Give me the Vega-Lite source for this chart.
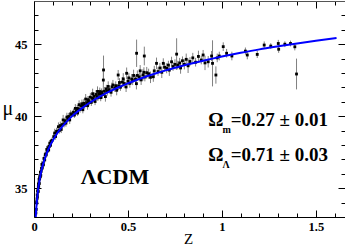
{
  "$schema": "https://vega.github.io/schema/vega-lite/v6.json",
  "width": 311,
  "height": 216,
  "autosize": {"type": "none"},
  "padding": {"left": 34, "top": 1, "right": 0, "bottom": 28},
  "background": "white",
  "config": {"view": {"stroke": null}, "axis": {"grid": false, "domainColor": "#000", "tickColor": "#000", "labelFont": "Liberation Serif, Times New Roman, serif", "labelFontWeight": "bold", "labelFontSize": 12.5, "labelColor": "#000", "titleFont": "Liberation Serif, Times New Roman, serif", "titleColor": "#000", "titleFontWeight": "normal"}},
  "datasets": {
    "sn": [
      {"z":0.010,"mu":33.28,"err":0.25},{"z":0.012,"mu":33.53,"err":0.2},{"z":0.014,"mu":34.06,"err":0.22},{"z":0.015,"mu":33.97,"err":0.2},{"z":0.016,"mu":34.26,"err":0.18},{"z":0.017,"mu":34.54,"err":0.25},{"z":0.018,"mu":34.39,"err":0.2},{"z":0.020,"mu":34.82,"err":0.18},{"z":0.021,"mu":34.81,"err":0.2},{"z":0.022,"mu":34.76,"err":0.22},
      {"z":0.023,"mu":35.09,"err":0.18},{"z":0.024,"mu":35.28,"err":0.2},{"z":0.025,"mu":35.14,"err":0.16},{"z":0.026,"mu":35.38,"err":0.2},{"z":0.027,"mu":35.61,"err":0.22},{"z":0.028,"mu":35.32,"err":0.18},{"z":0.030,"mu":35.66,"err":0.2},{"z":0.031,"mu":35.81,"err":0.17},{"z":0.033,"mu":35.79,"err":0.2},{"z":0.034,"mu":36.10,"err":0.22},
      {"z":0.036,"mu":35.90,"err":0.18},{"z":0.038,"mu":36.17,"err":0.2},{"z":0.040,"mu":36.39,"err":0.2},{"z":0.042,"mu":36.65,"err":0.25},{"z":0.044,"mu":36.40,"err":0.18},{"z":0.046,"mu":36.65,"err":0.2},{"z":0.048,"mu":36.73,"err":0.17},{"z":0.050,"mu":36.62,"err":0.2},{"z":0.053,"mu":37.07,"err":0.2},{"z":0.055,"mu":37.01,"err":0.18},
      {"z":0.057,"mu":36.96,"err":0.2},{"z":0.060,"mu":37.33,"err":0.22},{"z":0.063,"mu":37.38,"err":0.18},{"z":0.065,"mu":37.31,"err":0.2},{"z":0.068,"mu":37.69,"err":0.25},{"z":0.071,"mu":37.60,"err":0.2},{"z":0.075,"mu":37.81,"err":0.2},{"z":0.078,"mu":37.65,"err":0.18},{"z":0.080,"mu":37.91,"err":0.2},{"z":0.084,"mu":38.13,"err":0.22},
      {"z":0.088,"mu":37.98,"err":0.2},{"z":0.092,"mu":38.26,"err":0.18},{"z":0.096,"mu":38.32,"err":0.2},
      {"z":0.105,"mu":38.58,"err":0.25},{"z":0.11,"mu":38.83,"err":0.3},{"z":0.115,"mu":38.59,"err":0.22},{"z":0.12,"mu":38.95,"err":0.25},{"z":0.125,"mu":38.94,"err":0.2},{"z":0.13,"mu":39.27,"err":0.3},{"z":0.135,"mu":39.01,"err":0.22},{"z":0.14,"mu":39.35,"err":0.28},{"z":0.145,"mu":39.08,"err":0.25},{"z":0.15,"mu":39.42,"err":0.2},
      {"z":0.155,"mu":39.74,"err":0.35},{"z":0.16,"mu":39.47,"err":0.25},{"z":0.165,"mu":39.69,"err":0.22},{"z":0.17,"mu":39.52,"err":0.25},{"z":0.175,"mu":39.94,"err":0.3},{"z":0.18,"mu":39.81,"err":0.22},{"z":0.185,"mu":39.98,"err":0.25},{"z":0.19,"mu":39.74,"err":0.28},{"z":0.195,"mu":40.16,"err":0.25},{"z":0.2,"mu":40.12,"err":0.2},
      {"z":0.21,"mu":40.28,"err":0.25},{"z":0.215,"mu":40.08,"err":0.2},{"z":0.22,"mu":40.54,"err":0.3},{"z":0.225,"mu":40.34,"err":0.22},{"z":0.23,"mu":40.54,"err":0.25},{"z":0.232,"mu":40.22,"err":0.2},{"z":0.235,"mu":40.50,"err":0.28},{"z":0.24,"mu":40.80,"err":0.3},{"z":0.245,"mu":40.46,"err":0.22},{"z":0.25,"mu":40.71,"err":0.25},
      {"z":0.255,"mu":40.86,"err":0.3},{"z":0.26,"mu":40.45,"err":0.25},{"z":0.262,"mu":40.72,"err":0.2},{"z":0.265,"mu":40.90,"err":0.3},{"z":0.27,"mu":40.74,"err":0.22},{"z":0.275,"mu":41.19,"err":0.35},{"z":0.28,"mu":40.94,"err":0.25},{"z":0.285,"mu":40.73,"err":0.28},{"z":0.287,"mu":41.15,"err":0.25},{"z":0.29,"mu":41.08,"err":0.3},
      {"z":0.295,"mu":40.97,"err":0.22},{"z":0.30,"mu":41.32,"err":0.3},{"z":0.305,"mu":40.96,"err":0.25},{"z":0.31,"mu":41.25,"err":0.28},{"z":0.312,"mu":41.56,"err":0.35},{"z":0.315,"mu":41.19,"err":0.22},{"z":0.32,"mu":41.38,"err":0.3},{"z":0.325,"mu":41.02,"err":0.25},{"z":0.33,"mu":41.51,"err":0.3},{"z":0.335,"mu":41.35,"err":0.25},
      {"z":0.338,"mu":41.72,"err":0.35},{"z":0.34,"mu":41.28,"err":0.22},{"z":0.345,"mu":41.52,"err":0.3},{"z":0.35,"mu":41.71,"err":0.28},{"z":0.355,"mu":41.29,"err":0.25},{"z":0.358,"mu":41.56,"err":0.3},{"z":0.36,"mu":41.68,"err":0.25},{"z":0.365,"mu":41.51,"err":0.3},{"z":0.37,"mu":43.21,"err":1.0},{"z":0.369,"mu":42.51,"err":0.8},
      {"z":0.375,"mu":41.73,"err":0.3},{"z":0.38,"mu":41.36,"err":0.35},{"z":0.385,"mu":41.90,"err":0.28},{"z":0.39,"mu":41.73,"err":0.3},{"z":0.395,"mu":42.07,"err":0.35},{"z":0.40,"mu":41.85,"err":0.25},{"z":0.41,"mu":41.66,"err":0.3},{"z":0.415,"mu":42.04,"err":0.3},{"z":0.42,"mu":42.17,"err":0.35},{"z":0.43,"mu":41.94,"err":0.25},
      {"z":0.435,"mu":42.12,"err":0.3},{"z":0.44,"mu":41.80,"err":0.35},{"z":0.448,"mu":42.86,"err":0.35},{"z":0.45,"mu":42.11,"err":0.3},{"z":0.455,"mu":42.34,"err":0.3},{"z":0.46,"mu":42.01,"err":0.25},{"z":0.47,"mu":42.37,"err":0.35},{"z":0.475,"mu":42.59,"err":0.4},{"z":0.48,"mu":42.27,"err":0.3},{"z":0.49,"mu":42.03,"err":0.35},
      {"z":0.493,"mu":42.98,"err":0.4},{"z":0.50,"mu":42.43,"err":0.3},{"z":0.505,"mu":42.66,"err":0.35},{"z":0.51,"mu":42.28,"err":0.3},{"z":0.52,"mu":42.58,"err":0.35},{"z":0.525,"mu":42.46,"err":0.3},{"z":0.53,"mu":42.83,"err":0.4},{"z":0.54,"mu":42.58,"err":0.3},{"z":0.545,"mu":42.26,"err":0.4},{"z":0.546,"mu":44.37,"err":0.95},
      {"z":0.55,"mu":42.83,"err":0.35},{"z":0.56,"mu":42.73,"err":0.3},{"z":0.565,"mu":43.15,"err":0.4},{"z":0.57,"mu":42.52,"err":0.35},{"z":0.58,"mu":42.87,"err":0.4},{"z":0.585,"mu":43.05,"err":0.35},{"z":0.587,"mu":44.18,"err":0.65},{"z":0.59,"mu":42.72,"err":0.3},{"z":0.60,"mu":43.02,"err":0.4},
      {"z":0.61,"mu":42.95,"err":0.35},{"z":0.62,"mu":42.70,"err":0.4},{"z":0.635,"mu":42.74,"err":0.35},{"z":0.64,"mu":43.15,"err":0.35},{"z":0.652,"mu":43.67,"err":0.4},{"z":0.66,"mu":43.10,"err":0.3},{"z":0.67,"mu":43.35,"err":0.35},{"z":0.68,"mu":43.05,"err":0.4},{"z":0.688,"mu":43.67,"err":0.35},{"z":0.695,"mu":43.40,"err":0.3},
      {"z":0.706,"mu":43.33,"err":0.35},{"z":0.715,"mu":43.55,"err":0.3},{"z":0.72,"mu":43.20,"err":0.4},{"z":0.732,"mu":43.78,"err":0.35},{"z":0.74,"mu":43.45,"err":0.3},{"z":0.75,"mu":43.60,"err":0.35},{"z":0.759,"mu":44.31,"err":1.1},{"z":0.765,"mu":43.55,"err":0.3},{"z":0.775,"mu":43.70,"err":0.35},{"z":0.78,"mu":43.35,"err":0.4},
      {"z":0.79,"mu":43.85,"err":0.3},{"z":0.80,"mu":43.60,"err":0.35},{"z":0.81,"mu":43.95,"err":0.4},{"z":0.82,"mu":43.50,"err":0.5},{"z":0.83,"mu":43.80,"err":0.3},{"z":0.845,"mu":44.05,"err":0.35},{"z":0.86,"mu":43.75,"err":0.3},{"z":0.875,"mu":44.15,"err":0.4},{"z":0.89,"mu":43.90,"err":0.3},{"z":0.90,"mu":44.25,"err":0.35},
      {"z":0.91,"mu":43.70,"err":0.5},{"z":0.927,"mu":43.78,"err":0.4},{"z":0.945,"mu":44.18,"err":0.35},{"z":0.95,"mu":43.67,"err":1.6},{"z":0.968,"mu":42.86,"err":0.6},{"z":0.975,"mu":44.05,"err":0.3},{"z":0.986,"mu":44.18,"err":0.3},{"z":1.007,"mu":44.83,"err":0.3},{"z":1.025,"mu":44.37,"err":0.3},{"z":1.053,"mu":44.18,"err":0.3},
      {"z":1.125,"mu":44.52,"err":0.25},{"z":1.135,"mu":44.25,"err":0.3},{"z":1.188,"mu":44.29,"err":0.25},{"z":1.225,"mu":44.94,"err":0.25},{"z":1.26,"mu":44.87,"err":0.2},{"z":1.30,"mu":45.05,"err":0.25},{"z":1.302,"mu":44.65,"err":0.25},{"z":1.335,"mu":45.0,"err":0.2},{"z":1.365,"mu":45.05,"err":0.2},{"z":1.388,"mu":44.82,"err":0.25},{"z":1.397,"mu":42.93,"err":1.07}
    ],
    "curve": [
      {"z":0.009,"mu":32.95},{"z":0.01,"mu":33.18},{"z":0.012,"mu":33.58},{"z":0.015,"mu":34.07},{"z":0.02,"mu":34.70},{"z":0.025,"mu":35.19},{"z":0.03,"mu":35.60},{"z":0.035,"mu":35.94},{"z":0.04,"mu":36.24},{"z":0.05,"mu":36.74},{"z":0.06,"mu":37.15},{"z":0.07,"mu":37.50},{"z":0.08,"mu":37.81},{"z":0.09,"mu":38.08},{"z":0.1,"mu":38.32},{"z":0.12,"mu":38.75},{"z":0.15,"mu":39.27},{"z":0.18,"mu":39.71},{"z":0.2,"mu":39.97},{"z":0.25,"mu":40.51},{"z":0.3,"mu":40.97},{"z":0.35,"mu":41.36},{"z":0.4,"mu":41.70},{"z":0.45,"mu":42.01},{"z":0.5,"mu":42.28},{"z":0.55,"mu":42.53},{"z":0.6,"mu":42.77},{"z":0.65,"mu":42.98},{"z":0.7,"mu":43.18},{"z":0.75,"mu":43.36},{"z":0.8,"mu":43.54},{"z":0.85,"mu":43.70},{"z":0.9,"mu":43.85},{"z":0.95,"mu":44.00},{"z":1.0,"mu":44.14},{"z":1.1,"mu":44.40},{"z":1.2,"mu":44.64},{"z":1.3,"mu":44.85},{"z":1.4,"mu":45.05},{"z":1.5,"mu":45.24},{"z":1.61,"mu":45.43}
    ],
    "big": [{"z":0.431,"mu":35.29,"t":"ΛCDM"}],
    "mid": [
      {"z":0.9277,"mu":39.32,"t":"Ω"},{"z":1.047,"mu":39.32,"t":"=0.27 ± 0.01"},
      {"z":0.9277,"mu":36.89,"t":"Ω"},{"z":1.047,"mu":36.89,"t":"=0.71 ± 0.03"}
    ],
    "sub": [{"z":1.003,"mu":38.81,"t":"m"},{"z":1.003,"mu":36.40,"t":"Λ"}]
  },
  "resolve": {"axis": {"x": "independent", "y": "independent"}},
  "layer": [
    {
      "data": {"name": "sn"},
      "mark": {"type": "errorbar", "color": "#808080", "thickness": 1},
      "encoding": {
        "x": {"field": "z", "type": "quantitative", "scale": {"domain": [0, 1.655], "nice": false, "zero": false},
          "axis": {"orient": "bottom", "values": [0,0.1,0.2,0.3,0.4,0.5,0.6,0.7,0.8,0.9,1.0,1.1,1.2,1.3,1.4,1.5,1.6],
            "labelExpr": "abs(datum.value*2 - round(datum.value*2)) < 0.001 ? format(datum.value, '~g') : ''",
            "tickSize": {"condition": {"test": "abs(datum.value*2 - round(datum.value*2)) < 0.001", "value": -7}, "value": -4},
            "labelPadding": 10, "labelFlush": false, "labelOverlap": false,
            "title": "Z", "titleFontSize": 15, "titleX": 154, "titleY": 26, "titleAlign": "center", "titleBaseline": "alphabetic", "titleAnchor": null}},
        "y": {"field": "mu", "type": "quantitative", "scale": {"domain": [33, 48], "nice": false, "zero": false},
          "axis": {"orient": "left", "values": [34,35,36,37,38,39,40,41,42,43,44,45,46,47],
            "labelExpr": "datum.value % 5 == 0 ? format(datum.value, 'd') : ''",
            "tickSize": {"condition": {"test": "datum.value % 5 == 0", "value": -7}, "value": -4},
            "labelPadding": 14, "labelOverlap": false,
            "title": "μ", "titleFontSize": 20, "titleAngle": 0, "titleX": -32, "titleY": 113, "titleAlign": "left", "titleBaseline": "alphabetic"}},
        "yError": {"field": "err"}
      }
    },
    {
      "data": {"name": "sn"},
      "mark": {"type": "square", "color": "#000", "size": 8, "opacity": 1},
      "encoding": {
        "x": {"field": "z", "type": "quantitative", "axis": null},
        "y": {"field": "mu", "type": "quantitative", "axis": null}
      }
    },
    {
      "data": {"name": "curve"},
      "mark": {"type": "line", "color": "#0000ff", "strokeWidth": 2, "clip": true, "interpolate": "monotone"},
      "encoding": {
        "x": {"field": "z", "type": "quantitative",
          "axis": {"orient": "top", "values": [0,0.1,0.2,0.3,0.4,0.5,0.6,0.7,0.8,0.9,1.0,1.1,1.2,1.3,1.4,1.5,1.6], "labels": false, "title": null,
            "tickSize": {"condition": {"test": "abs(datum.value*2 - round(datum.value*2)) < 0.001", "value": -7}, "value": -4}, "domainColor": "#555"}},
        "y": {"field": "mu", "type": "quantitative",
          "axis": {"orient": "right", "values": [34,35,36,37,38,39,40,41,42,43,44,45,46,47], "labels": false, "title": null,
            "tickSize": {"condition": {"test": "datum.value % 5 == 0", "value": -7}, "value": -4}}}
      }
    },
    {
      "data": {"name": "big"},
      "mark": {"type": "text", "font": "Liberation Serif, Times New Roman, serif", "fontWeight": "bold", "fontSize": 22, "align": "center", "baseline": "alphabetic", "color": "#000"},
      "encoding": {
        "x": {"field": "z", "type": "quantitative", "axis": null},
        "y": {"field": "mu", "type": "quantitative", "axis": null},
        "text": {"field": "t"}
      }
    },
    {
      "data": {"name": "mid"},
      "mark": {"type": "text", "font": "Liberation Serif, Times New Roman, serif", "fontWeight": "bold", "fontSize": 19, "align": "left", "baseline": "alphabetic", "color": "#000"},
      "encoding": {
        "x": {"field": "z", "type": "quantitative", "axis": null},
        "y": {"field": "mu", "type": "quantitative", "axis": null},
        "text": {"field": "t"}
      }
    },
    {
      "data": {"name": "sub"},
      "mark": {"type": "text", "font": "Liberation Serif, Times New Roman, serif", "fontWeight": "bold", "fontSize": 10, "align": "left", "baseline": "alphabetic", "color": "#000"},
      "encoding": {
        "x": {"field": "z", "type": "quantitative", "axis": null},
        "y": {"field": "mu", "type": "quantitative", "axis": null},
        "text": {"field": "t"}
      }
    }
  ]
}
